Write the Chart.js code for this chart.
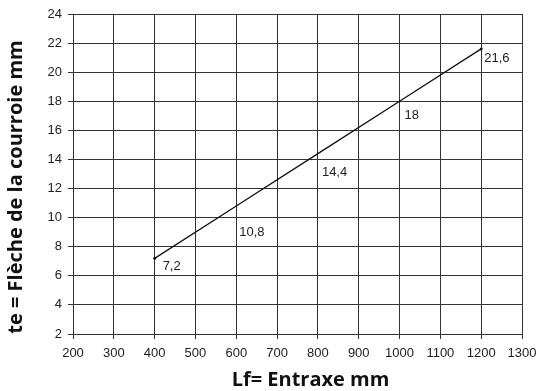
<!DOCTYPE html>
<html>
<head>
<meta charset="utf-8">
<script src="https://cdn.jsdelivr.net/npm/chart.js@4"></script>
<style>
  html, body { margin: 0; padding: 0; background: #fff; }
  #wrap { width: 538px; height: 391px; }
</style>
</head>
<body>
<div id="wrap"><canvas id="fleche"></canvas></div>
<script>
// Data
const entraxe = [400, 600, 800, 1000, 1200];
const fleche = [7.2, 10.8, 14.4, 18, 21.6];
const pointLabels = ['7,2', '10,8', '14,4', '18', '21,6'];
const xTicks = [200, 300, 400, 500, 600, 700, 800, 900, 1000, 1100, 1200, 1300];
const yTicks = [2, 4, 6, 8, 10, 12, 14, 16, 18, 20, 22, 24];
const xTitle = 'Lf= Entraxe mm';
const yTitle = 'te = Flèche de la courroie mm';

// label placement next to each point (px)
const labelShift = [[8, 8], [3, 26], [4, 19], [5, 14], [3, 10]];
const titleFont = "bold 20px 'Open Sans', 'Liberation Sans', sans-serif";
const tickFont = { family: "'Liberation Sans', Arial, sans-serif", size: 13 };

const valueLabels = {
    id: 'valueLabels',
    afterDatasetsDraw(chart) {
        const ctx = chart.ctx;
        const meta = chart.getDatasetMeta(0);
        ctx.save();
        ctx.font = "13px 'Liberation Sans', Arial, sans-serif";
        ctx.fillStyle = '#222';
        ctx.textAlign = 'left';
        ctx.textBaseline = 'middle';
        meta.data.forEach(function (pt, i) {
            ctx.fillText(pointLabels[i], pt.x + labelShift[i][0], pt.y + labelShift[i][1]);
        });
        ctx.restore();
    }
};

// axis titles sit a little off-centre in the original, so draw them by hand
const axisTitles = {
    id: 'axisTitles',
    afterDraw(chart) {
        const ctx = chart.ctx;
        const area = chart.chartArea;
        ctx.save();
        ctx.font = titleFont;
        ctx.fillStyle = '#111';
        ctx.textAlign = 'center';
        ctx.textBaseline = 'middle';
        ctx.fillText(xTitle, (area.left + area.right) / 2 + 13, 380);
        ctx.translate(16, (area.top + area.bottom) / 2 + 13);
        ctx.rotate(-Math.PI / 2);
        ctx.fillText(yTitle, 0, 0);
        ctx.restore();
    }
};

const gridStyle = { color: '#333', lineWidth: 1, tickLength: 5, tickColor: '#333' };

new Chart(document.getElementById('fleche'), {
    type: 'line',
    data: {
        datasets: [{
            data: entraxe.map((x, i) => ({ x: x, y: fleche[i] })),
            borderColor: '#111',
            borderWidth: 1.3,
            pointRadius: [1.5, 0, 0, 0, 1.5],
            pointBackgroundColor: '#111',
            pointBorderWidth: 0,
            tension: 0
        }]
    },
    options: {
        responsive: true,
        maintainAspectRatio: false,
        animation: false,
        layout: { padding: { top: 14, right: 16, left: 0, bottom: 0 } },
        plugins: { legend: { display: false }, tooltip: { enabled: false } },
        scales: {
            x: {
                type: 'linear',
                min: 200, max: 1300,
                afterBuildTicks: s => { s.ticks = xTicks.map(v => ({ value: v })); },
                afterFit: s => { s.height = 57; s.paddingLeft = 0; s.paddingRight = 0; },
                grid: gridStyle,
                border: { color: '#333', width: 1 },
                ticks: { color: '#222', padding: 7, font: tickFont, callback: v => String(v) }
            },
            y: {
                type: 'linear',
                min: 2, max: 24,
                afterBuildTicks: s => { s.ticks = yTicks.map(v => ({ value: v })); },
                afterFit: s => { s.width = 73; s.paddingTop = 0; s.paddingBottom = 0; },
                grid: gridStyle,
                border: { color: '#333', width: 1 },
                ticks: { color: '#222', padding: 6, font: tickFont, callback: v => String(v) }
            }
        }
    },
    plugins: [valueLabels, axisTitles]
});
</script>
</body>
</html>
